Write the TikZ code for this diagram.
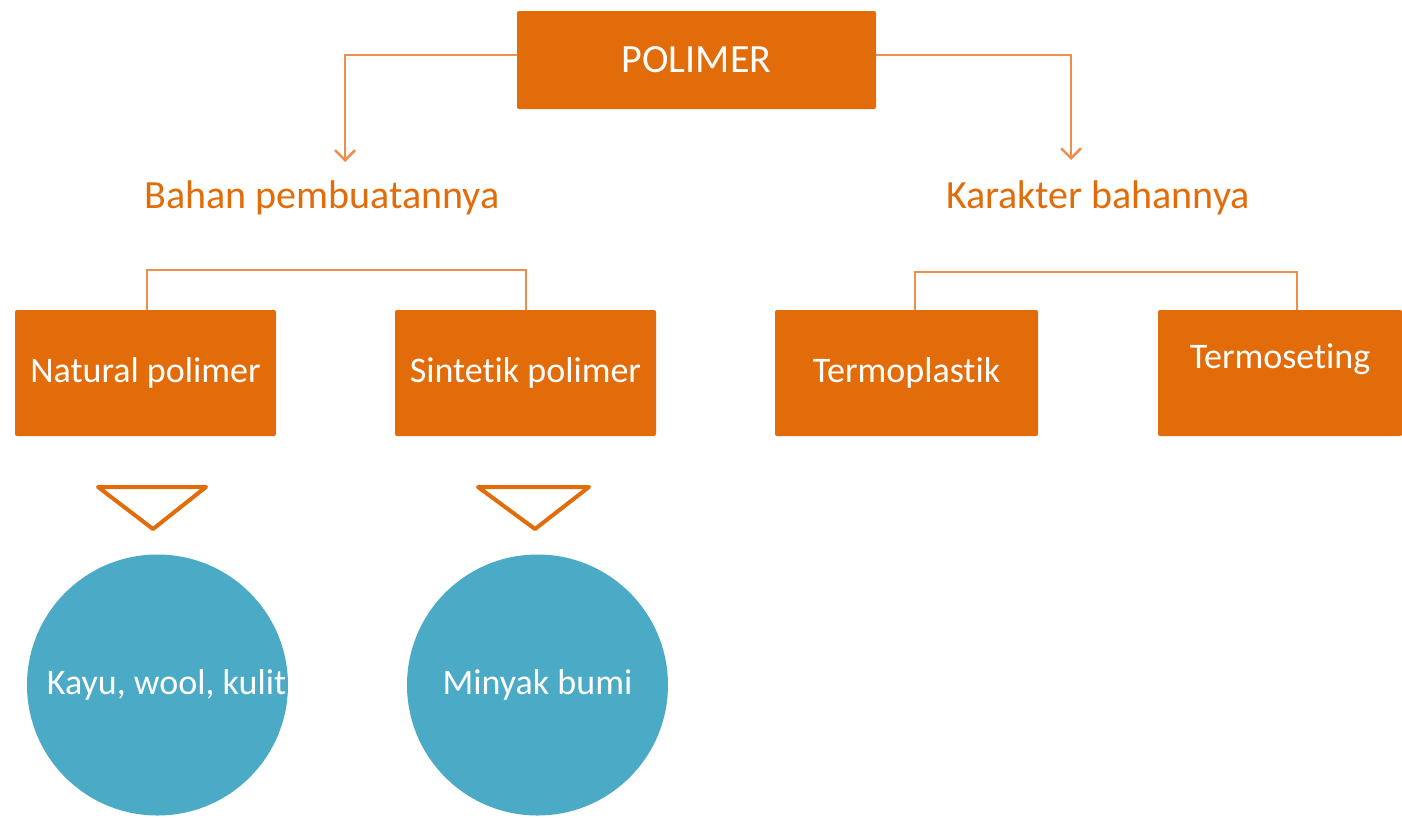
\documentclass[tikz,border=0pt]{standalone}
\usepackage{fontspec}
\setmainfont{Carlito}[Ligatures=NoCommon]
\usetikzlibrary{arrows.meta}
\definecolor{oranye}{HTML}{E36C0A}
\definecolor{garisoranye}{HTML}{EE8F4E}
\definecolor{biru}{HTML}{4BAAC5}
\tikzset{
  kotak/.style={fill=oranye, text=white, rounded corners=2pt, inner sep=0pt,
    minimum width=261pt, minimum height=126pt, font=\fontsize{36}{40}\selectfont},
  judul/.style={text=oranye, inner sep=0pt, font=\fontsize{40}{44}\selectfont},
  lingkaran/.style={circle, fill=biru, text=white, inner sep=0pt,
    minimum size=261pt, font=\fontsize{36}{40}\selectfont},
  garis/.style={draw=garisoranye, line width=2.5pt},
  panah/.style={garis, -{Straight Barb[length=10pt,width=20pt]}},
  segitiga/.style={draw=oranye, line width=4pt, line join=round}
}
\begin{document}
\begin{tikzpicture}[x=1pt, y=-1pt]
  \useasboundingbox (0,0) rectangle (1402,817);
  % --- 上の箱 ---
  \node[kotak, minimum width=359pt, minimum height=98pt, font=\fontsize{40}{44}\selectfont] (polimer) at (696.5,60) {POLIMER};
  % 見出し
  \node[judul] (bahan) at (322,198) {Bahan pembuatannya};
  \node[judul] (karakter) at (1098,198) {Karakter bahannya};
  \coordinate (bahanpanah) at (345,162);
  \coordinate (karakterpanah) at (1071,160);
  \draw[panah] ([yshift=5pt]polimer.west) -| (bahanpanah);
  \draw[panah] ([yshift=5pt]polimer.east) -| (karakterpanah);
  % --- 下の箱 ---
  \node[kotak] (natural) at (145.5,373) {Natural polimer};
  \node[kotak] (sintetik) at (525.5,373) {Sintetik polimer};
  \node[kotak, minimum width=263pt] (termoplastik) at (906.5,373) {Termoplastik};
  \node[kotak, minimum width=244pt, text depth=34pt] (termoseting) at (1280,373) {Termoseting};
  \draw[garis] ([xshift=1.5pt]natural.north) -- ++(0,-40) -| ([xshift=0.5pt]sintetik.north);
  \draw[garis] ([xshift=8.5pt]termoplastik.north) -- ++(0,-38) -| ([xshift=17pt]termoseting.north);
  % --- 三角 ---
  \draw[segitiga] (98,487) -- (206,487) -- (153,529) -- cycle;
  \draw[segitiga] (478,487) -- (589,487) -- (535,529) -- cycle;
  % --- 円 ---
  \node[lingkaran] (kayu) at (157.5,685) {\hspace*{18pt}Kayu, wool, kulit};
  \node[lingkaran] (minyak) at (537.5,685) {Minyak bumi};
\end{tikzpicture}
\end{document}
